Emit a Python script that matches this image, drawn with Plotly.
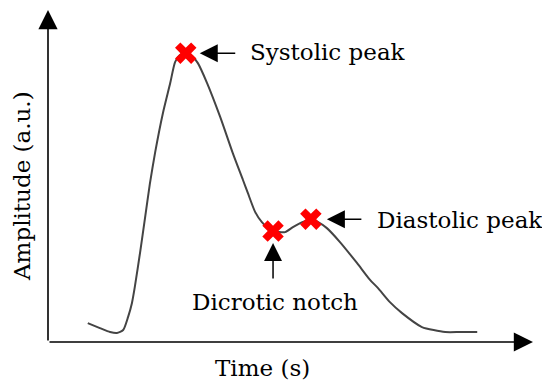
import plotly.graph_objects as go

# PPG pulse (time in s, amplitude in a.u.)
time = [0.082, 0.107, 0.128, 0.142, 0.155, 0.165, 0.173, 0.179, 0.190, 0.200,
        0.210, 0.221, 0.237, 0.252, 0.262, 0.272, 0.285, 0.297, 0.309, 0.328,
        0.355, 0.381, 0.402, 0.412, 0.427, 0.441, 0.454, 0.464, 0.489,
        0.505, 0.520, 0.530, 0.542, 0.557, 0.575, 0.602, 0.637, 0.664, 0.680,
        0.705, 0.730, 0.771, 0.819, 0.850, 0.885]
amplitude = [0.057, 0.042, 0.030, 0.027, 0.036, 0.075, 0.117, 0.166, 0.271, 0.373,
             0.476, 0.572, 0.690, 0.780, 0.843, 0.864, 0.870, 0.861, 0.840, 0.780,
             0.678, 0.569, 0.488, 0.449, 0.392, 0.361, 0.343, 0.334, 0.331,
             0.346, 0.358, 0.364, 0.370, 0.361, 0.343, 0.301, 0.238, 0.187, 0.163,
             0.120, 0.087, 0.045, 0.030, 0.030, 0.030]

# feature points
point_names = ["Systolic peak", "Dicrotic notch", "Diastolic peak"]
point_time = [0.284, 0.464, 0.542]
point_amp = [0.870, 0.334, 0.370]

serif = dict(family="DejaVu Serif", size=23, color="black")

fig = go.Figure()
fig.add_trace(go.Scatter(x=time, y=amplitude, mode="lines",
                         line=dict(color="#444444", width=2, shape="spline", smoothing=0.6),
                         hoverinfo="skip"))
fig.add_trace(go.Scatter(x=point_time, y=point_amp, mode="markers", text=point_names,
                         marker=dict(symbol="x", size=19, color="#ff0000", line=dict(width=0))))

ann = []
# axis arrows
ann.append(dict(x=1, y=0, ax=0, ay=0, xref="x", yref="y", axref="x", ayref="y", text="",
                showarrow=True, arrowhead=2, arrowsize=2.4, arrowwidth=1.6, arrowcolor="black"))
ann.append(dict(x=0, y=1, ax=0, ay=0, xref="x", yref="y", axref="x", ayref="y", text="",
                showarrow=True, arrowhead=2, arrowsize=2.4, arrowwidth=1.6, arrowcolor="black"))

# pointer arrows + labels
arrow = dict(text="", showarrow=True, arrowhead=2, arrowsize=2.4, arrowwidth=1.5,
             arrowcolor="black", xref="x", yref="y")
ann.append(dict(arrow, x=point_time[0], y=point_amp[0], ax=51, ay=0, standoff=14))
ann.append(dict(arrow, x=point_time[2], y=point_amp[2], ax=52, ay=0, standoff=16))
ann.append(dict(arrow, x=point_time[1], y=point_amp[1], ax=0, ay=49, standoff=12))

ann.append(dict(x=point_time[0], y=point_amp[0], text=point_names[0], showarrow=False,
                xanchor="left", yanchor="middle", xshift=62, yshift=1, font=serif))
ann.append(dict(x=point_time[2], y=point_amp[2], text=point_names[2], showarrow=False,
                xanchor="left", yanchor="middle", xshift=64, yshift=-1, font=serif))
ann.append(dict(x=point_time[1], y=point_amp[1], text=point_names[1], showarrow=False,
                xanchor="center", yanchor="middle", xshift=2, yshift=-71, font=serif))

# axis titles
ann.append(dict(x=0.5, y=0, xref="paper", yref="paper", text="Time (s)", showarrow=False,
                xanchor="center", yanchor="middle", yshift=-26, xshift=-28, font=serif))
ann.append(dict(x=0, y=0.5, xref="paper", yref="paper", text="Amplitude (a.u.)", showarrow=False,
                textangle=-90, xanchor="center", yanchor="middle", xshift=-26, yshift=-10,
                font=serif))

# page body adds 8px, so the figure is a bit smaller and shifted up/left
fig.update_layout(
    width=542, height=382,
    margin=dict(l=40, r=17, t=2, b=48),
    paper_bgcolor="white", plot_bgcolor="white",
    showlegend=False,
    annotations=ann,
)
fig.update_xaxes(range=[0, 1], showgrid=False, zeroline=False, showticklabels=False, ticks="")
fig.update_yaxes(range=[0, 1], showgrid=False, zeroline=False, showticklabels=False, ticks="")

fig.write_html("out.html")
